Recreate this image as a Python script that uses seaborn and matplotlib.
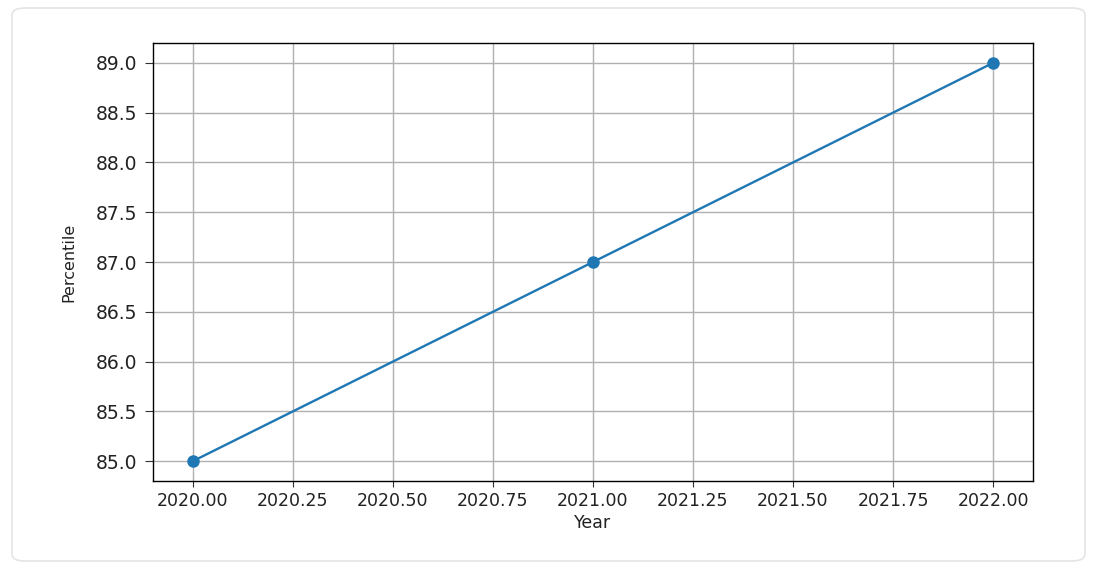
import matplotlib
matplotlib.use("Agg")
import matplotlib.pyplot as plt
import seaborn as sns
import pandas as pd
from matplotlib.patches import FancyBboxPatch

# chart data
years = [2020, 2021, 2022]
percentiles = [85, 87, 89]


def main():
    df = pd.DataFrame({"Year": years, "Percentile": percentiles})

    plt.rcParams["font.family"] = ["DejaVu Sans"]
    fig = plt.figure(figsize=(10.93, 5.69), dpi=100)
    fig.patch.set_facecolor("white")

    # rounded card behind the plot
    card = FancyBboxPatch((12 / 1093, 8 / 569), 1073 / 1093, 553 / 569,
                          boxstyle="round,pad=0,rounding_size=0.012",
                          transform=fig.transFigure, facecolor="white",
                          edgecolor="#e4e4e4", linewidth=1.2, zorder=-10)
    fig.patches.append(card)

    ax = fig.add_axes([153 / 1093, 88 / 569, 880 / 1093, 438 / 569])
    ax.set_zorder(1)
    ax.patch.set_alpha(0)
    sns.lineplot(data=df, x="Year", y="Percentile", marker="o", ax=ax,
                 color="#1f77b4", markersize=9, markeredgewidth=0,
                 linewidth=1.7)

    ax.grid(True, color="#b0b0b0", linewidth=1)
    ax.set_axisbelow(True)
    for sp in ax.spines.values():
        sp.set_color("black")
        sp.set_linewidth(1)
    ax.tick_params(axis="x", labelsize=12.5, length=4, pad=4,
                   color="#333333", labelcolor="#222222")
    ax.tick_params(axis="y", labelsize=13.5, length=6, pad=5,
                   color="#333333", labelcolor="#222222")
    ax.set_xticks([2020 + 0.25 * i for i in range(9)])
    ax.xaxis.set_major_formatter(matplotlib.ticker.FormatStrFormatter("%.2f"))
    ax.yaxis.set_major_formatter(matplotlib.ticker.FormatStrFormatter("%.1f"))
    ax.set_xlabel("Year", fontsize=12.5, color="#222222", labelpad=3)
    ax.set_ylabel("Percentile", fontsize=11.5, color="#222222", labelpad=14)

    fig.savefig("out.png", dpi=100)


if __name__ == "__main__":
    main()
